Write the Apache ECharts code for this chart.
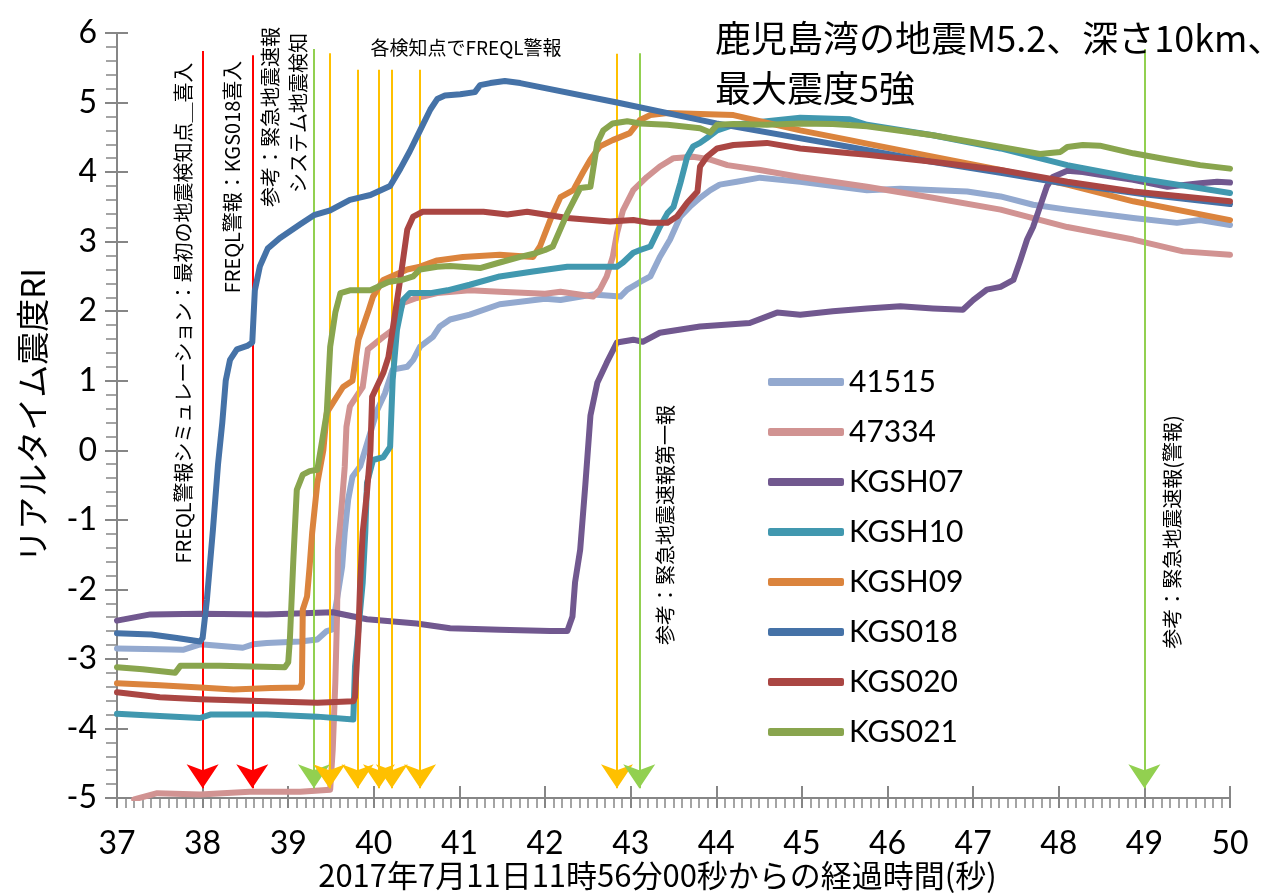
<!DOCTYPE html>
<html>
<head>
<meta charset="utf-8">
<script src="https://cdn.jsdelivr.net/npm/echarts@6/dist/echarts.min.js"></script>
<style>
  html, body { margin: 0; padding: 0; background: #fff; }
  #chart { width: 1274px; height: 894px; }
</style>
</head>
<body>
<div id="chart"></div>
<script>
// series: [seconds, RI]
const s41515 = [
  [37.00, -2.85], [37.50, -2.86], [37.77, -2.87], [37.97, -2.79], [38.47, -2.84], [38.59, -2.79],
  [38.75, -2.77], [39.14, -2.75], [39.34, -2.72], [39.45, -2.60], [39.51, -2.58], [39.57, -2.14],
  [39.63, -1.67], [39.66, -1.18], [39.70, -0.71], [39.75, -0.38], [39.84, -0.23], [40.04, 0.58],
  [40.13, 0.82], [40.22, 1.16], [40.39, 1.20], [40.46, 1.30], [40.54, 1.49], [40.69, 1.63],
  [40.77, 1.78], [40.89, 1.88], [41.12, 1.95], [41.47, 2.10], [42.00, 2.18], [42.18, 2.16],
  [42.56, 2.24], [42.88, 2.21], [42.96, 2.31], [43.11, 2.42], [43.23, 2.50], [43.34, 2.78],
  [43.46, 3.03], [43.58, 3.36], [43.69, 3.50], [43.81, 3.63], [43.93, 3.74], [44.04, 3.82],
  [44.24, 3.86], [44.51, 3.92], [44.98, 3.86], [45.76, 3.74], [46.15, 3.76], [46.93, 3.72],
  [47.32, 3.65], [47.70, 3.53], [48.10, 3.46], [48.87, 3.34], [49.38, 3.27], [49.65, 3.31],
  [50.00, 3.24]
];
const s47334 = [
  [37.20, -5.02], [37.47, -4.93], [37.97, -4.95], [38.55, -4.91], [39.14, -4.91], [39.49, -4.88],
  [39.52, -4.30], [39.55, -3.34], [39.57, -2.39], [39.58, -1.43], [39.63, -0.71], [39.66, -0.24],
  [39.68, 0.34], [39.72, 0.63], [39.87, 0.91], [39.93, 1.45], [40.11, 1.63], [40.22, 1.73],
  [40.34, 2.12], [40.50, 2.19], [40.74, 2.26], [41.12, 2.30], [41.47, 2.28], [42.00, 2.25],
  [42.18, 2.28], [42.56, 2.21], [42.64, 2.31], [42.72, 2.50], [42.79, 2.78], [42.84, 3.12],
  [42.91, 3.45], [43.03, 3.74], [43.19, 3.93], [43.34, 4.08], [43.50, 4.20], [43.73, 4.22],
  [43.93, 4.18], [44.13, 4.10], [44.51, 4.03], [44.98, 3.93], [45.76, 3.79], [46.53, 3.63],
  [47.32, 3.46], [48.10, 3.21], [48.87, 3.03], [49.45, 2.86], [50.00, 2.81]
];
const sKGSH07 = [
  [37.00, -2.45], [37.39, -2.36], [37.97, -2.35], [38.75, -2.36], [39.52, -2.33], [39.92, -2.43],
  [40.50, -2.49], [40.89, -2.56], [41.47, -2.58], [42.06, -2.60], [42.26, -2.60], [42.32, -2.39],
  [42.35, -1.90], [42.41, -1.43], [42.47, -0.50], [42.53, 0.50], [42.61, 0.97], [42.72, 1.26],
  [42.84, 1.55], [43.03, 1.59], [43.14, 1.56], [43.34, 1.69], [43.81, 1.78], [44.39, 1.83],
  [44.71, 1.98], [44.98, 1.95], [45.36, 2.00], [45.76, 2.04], [46.15, 2.07], [46.53, 2.04],
  [46.88, 2.02], [47.00, 2.16], [47.16, 2.31], [47.32, 2.35], [47.47, 2.45], [47.55, 2.73],
  [47.63, 3.03], [47.70, 3.21], [47.78, 3.50], [47.86, 3.79], [47.93, 3.93], [48.10, 4.02],
  [48.28, 4.00], [48.48, 3.96], [48.87, 3.89], [49.27, 3.79], [49.65, 3.84], [49.85, 3.86],
  [50.00, 3.85]
];
const sKGSH10 = [
  [37.00, -3.79], [37.50, -3.82], [37.97, -3.85], [38.09, -3.80], [38.75, -3.80], [39.34, -3.83],
  [39.76, -3.87], [39.78, -3.11], [39.87, -1.90], [39.90, -1.18], [39.92, -0.47], [39.99, -0.14],
  [40.11, -0.10], [40.19, 0.05], [40.22, 1.01], [40.27, 1.73], [40.34, 2.16], [40.42, 2.26],
  [40.66, 2.26], [40.86, 2.30], [41.12, 2.38], [41.47, 2.50], [41.86, 2.57], [42.26, 2.64],
  [42.84, 2.64], [42.91, 2.70], [43.03, 2.84], [43.11, 2.88], [43.23, 2.93], [43.34, 3.21],
  [43.43, 3.41], [43.50, 3.50], [43.58, 3.84], [43.66, 4.22], [43.73, 4.37], [43.81, 4.42],
  [43.89, 4.49], [44.01, 4.60], [44.20, 4.68], [44.59, 4.73], [44.98, 4.78], [45.56, 4.76],
  [45.76, 4.68], [46.53, 4.53], [47.32, 4.34], [48.10, 4.10], [48.87, 3.92], [50.00, 3.70]
];
const sKGSH09 = [
  [37.00, -3.35], [37.50, -3.38], [37.97, -3.41], [38.36, -3.44], [38.80, -3.42], [39.14, -3.41],
  [39.16, -3.35], [39.17, -2.29], [39.22, -2.10], [39.25, -1.67], [39.28, -1.18], [39.34, -0.47],
  [39.41, 0.00], [39.45, 0.54], [39.64, 0.91], [39.75, 1.00], [39.82, 1.59], [39.93, 1.98],
  [39.99, 2.21], [40.11, 2.45], [40.39, 2.60], [40.54, 2.64], [40.74, 2.73], [41.04, 2.78],
  [41.47, 2.81], [41.86, 2.78], [41.94, 2.93], [42.06, 3.31], [42.18, 3.64], [42.33, 3.74],
  [42.44, 3.99], [42.53, 4.18], [42.64, 4.37], [42.79, 4.46], [42.99, 4.56], [43.11, 4.75],
  [43.23, 4.82], [43.43, 4.85], [44.20, 4.82], [44.98, 4.60], [45.56, 4.46], [45.76, 4.41],
  [46.53, 4.22], [47.32, 4.03], [48.10, 3.82], [48.87, 3.58], [50.00, 3.31]
];
const sKGS018 = [
  [37.00, -2.63], [37.40, -2.65], [37.70, -2.70], [37.97, -2.75], [38.00, -2.70], [38.05, -2.15],
  [38.12, -1.15], [38.18, -0.20], [38.23, 0.40], [38.27, 1.00], [38.32, 1.30], [38.40, 1.45],
  [38.52, 1.50], [38.58, 1.55], [38.61, 2.30], [38.67, 2.65], [38.76, 2.90], [38.90, 3.05],
  [39.02, 3.15], [39.14, 3.25], [39.30, 3.38], [39.49, 3.45], [39.72, 3.60], [39.96, 3.67],
  [40.19, 3.80], [40.31, 4.05], [40.42, 4.30], [40.54, 4.60], [40.66, 4.90], [40.74, 5.05],
  [40.83, 5.10], [41.01, 5.12], [41.18, 5.15], [41.24, 5.25], [41.36, 5.28], [41.53, 5.31],
  [41.71, 5.28], [42.84, 5.00], [44.00, 4.70], [45.56, 4.36], [46.50, 4.15], [47.32, 3.99],
  [48.00, 3.85], [49.00, 3.68], [50.00, 3.54]
];
const sKGS020 = [
  [37.00, -3.48], [37.50, -3.55], [37.97, -3.58], [38.75, -3.61], [39.34, -3.63], [39.76, -3.61],
  [39.78, -3.55], [39.82, -2.62], [39.84, -1.90], [39.87, -1.18], [39.92, -0.60], [39.96, 0.00],
  [39.98, 0.77], [40.11, 1.11], [40.17, 1.34], [40.25, 1.98], [40.33, 2.64], [40.39, 3.17],
  [40.46, 3.36], [40.57, 3.43], [41.12, 3.43], [41.28, 3.43], [41.56, 3.39], [41.79, 3.43],
  [42.26, 3.34], [42.76, 3.29], [43.03, 3.31], [43.23, 3.27], [43.43, 3.27], [43.54, 3.36],
  [43.66, 3.56], [43.78, 3.72], [43.81, 4.08], [43.89, 4.22], [44.01, 4.34], [44.20, 4.39],
  [44.59, 4.42], [44.98, 4.34], [45.56, 4.27], [45.76, 4.25], [46.53, 4.15], [47.32, 4.03],
  [48.10, 3.86], [48.87, 3.72], [50.00, 3.58]
];
const sKGS021 = [
  [37.00, -3.12], [37.30, -3.15], [37.68, -3.20], [37.74, -3.10], [38.20, -3.10], [38.96, -3.12],
  [39.00, -3.05], [39.02, -2.70], [39.06, -1.57], [39.10, -0.57], [39.17, -0.35], [39.25, -0.30],
  [39.34, -0.28], [39.45, 0.54], [39.49, 1.49], [39.55, 1.98], [39.61, 2.26], [39.72, 2.30],
  [39.96, 2.30], [40.17, 2.42], [40.33, 2.45], [40.46, 2.50], [40.54, 2.60], [40.74, 2.64],
  [40.89, 2.65], [41.24, 2.62], [41.47, 2.70], [41.71, 2.78], [41.88, 2.83], [42.00, 2.88],
  [42.09, 2.93], [42.26, 3.41], [42.41, 3.77], [42.53, 3.79], [42.61, 4.42], [42.68, 4.60],
  [42.79, 4.70], [42.96, 4.73], [43.11, 4.70], [43.43, 4.68], [43.81, 4.63], [43.93, 4.57],
  [44.01, 4.68], [44.20, 4.69], [44.59, 4.68], [44.98, 4.70], [45.36, 4.69], [45.76, 4.66],
  [46.53, 4.53], [47.32, 4.36], [47.78, 4.26], [48.02, 4.29], [48.10, 4.36], [48.28, 4.39],
  [48.48, 4.38], [48.87, 4.27], [49.27, 4.18], [49.65, 4.10], [50.00, 4.05]
];

const seriesNames = ['41515', '47334', 'KGSH07', 'KGSH10', 'KGSH09', 'KGS018', 'KGS020', 'KGS021'];
const seriesValues = [s41515, s47334, sKGSH07, sKGSH10, sKGSH09, sKGS018, sKGS020, sKGS021];
const seriesColors = ['#93A9CF', '#D19392', '#71588F', '#4198AF', '#DB843D', '#4572A7', '#AA4643', '#89A54E'];

// event arrows: time, top of the arrow (RI), kind
const arrowTimes = [38.00, 38.58, 39.30, 39.48, 39.81, 40.06, 40.21, 40.54, 42.84, 43.10, 49.00];
const arrowTops = [5.74, 5.68, 5.77, 5.71, 5.47, 5.47, 5.47, 5.47, 5.70, 5.71, 5.77];
const arrowKinds = ['freql', 'freql', 'jma', 'station', 'station', 'station', 'station', 'station', 'station', 'jma', 'jma'];
const arrowBottom = -4.86;
const kindColor = { freql: '#FF0000', station: '#FFC000', jma: '#92D050' };

const chart = echarts.init(document.getElementById('chart'));

const lineSeries = seriesNames.map((name, i) => ({
  name: name,
  type: 'line',
  data: seriesValues[i],
  showSymbol: false,
  symbol: 'none',
  color: seriesColors[i],
  lineStyle: { width: 6, color: seriesColors[i], cap: 'round', join: 'round' },
  z: 2 + i
}));

const arrowLines = arrowTimes.map((t, i) => [
  { coord: [t, arrowTops[i]], lineStyle: { color: kindColor[arrowKinds[i]], width: 2, type: 'solid' } },
  { coord: [t, arrowBottom] }
]);

lineSeries.push({
  name: 'events',
  type: 'line',
  data: [],
  z: 20,
  markLine: {
    silent: true,
    animation: false,
    symbol: ['none', 'arrow'],
    symbolSize: 24,
    label: { show: false },
    data: arrowLines
  }
});

const vText = (txt, x, y, size) => ({
  type: 'text',
  x: x,
  y: y,
  rotation: Math.PI / 2,
  style: {
    text: txt,
    fill: '#000',
    font: size + 'px "Noto Sans CJK JP"',
    align: 'center',
    verticalAlign: 'middle'
  },
  z: 100
});

const tickColor = '#868686';

const option = {
  animation: false,
  backgroundColor: '#fff',
  title: {
    text: '鹿児島湾の地震M5.2、深さ10km、\n最大震度5強',
    left: 710,
    top: 8,
    textStyle: { fontFamily: 'Noto Sans CJK JP', fontSize: 36, fontWeight: 'normal', color: '#000', lineHeight: 50 }
  },
  legend: {
    data: seriesNames,
    orient: 'vertical',
    left: 763,
    top: 362,
    icon: 'roundRect',
    itemWidth: 76,
    itemHeight: 8,
    itemGap: 20,
    textStyle: { fontFamily: 'Lato', fontSize: 30, color: '#000', lineHeight: 30 }
  },
  grid: { left: 117, right: 44, top: 33, bottom: 96, outerBoundsMode: 'none', containLabel: false },
  xAxis: [{
    type: 'value',
    min: 37,
    max: 50,
    interval: 1,
    name: '2017年7月11日11時56分00秒からの経過時間(秒)',
    nameLocation: 'middle',
    nameGap: 62,
    nameMoveOverlap: false,
    nameTextStyle: { fontFamily: 'Noto Sans CJK JP', fontSize: 31, color: '#000', padding: [0, 32, 0, 0] },
    axisLine: { show: true, onZero: false, lineStyle: { color: tickColor, width: 2 } },
    axisTick: { show: true, inside: false, length: 10, lineStyle: { color: tickColor, width: 2 } },
    minorTick: { show: true, splitNumber: 10, length: 10, lineStyle: { color: tickColor, width: 1.5 } },
    axisLabel: { fontFamily: 'Lato', fontSize: 32, color: '#000', margin: 30 },
    splitLine: { show: false }
  }, {
    type: 'value',
    min: 37,
    max: 50,
    interval: 1,
    position: 'bottom',
    axisLine: { show: false, onZero: false },
    axisTick: { show: true, inside: true, length: 12, lineStyle: { color: tickColor, width: 2 } },
    axisLabel: { show: false },
    splitLine: { show: false }
  }],
  yAxis: [{
    type: 'value',
    min: -5,
    max: 6,
    interval: 1,
    name: 'リアルタイム震度RI',
    nameLocation: 'middle',
    nameGap: 68,
    nameMoveOverlap: false,
    nameTextStyle: { fontFamily: 'Noto Sans CJK JP', fontSize: 33, color: '#000' },
    axisLine: { show: true, onZero: false, lineStyle: { color: tickColor, width: 2 } },
    axisTick: { show: true, inside: false, length: 12, lineStyle: { color: tickColor, width: 2 } },
    minorTick: { show: true, splitNumber: 5, length: 11, lineStyle: { color: tickColor, width: 1.5 } },
    axisLabel: { fontFamily: 'Lato', fontSize: 32, color: '#000', margin: 20 },
    splitLine: { show: false }
  }, {
    type: 'value',
    min: -5,
    max: 6,
    interval: 1,
    position: 'left',
    axisLine: { show: false, onZero: false },
    axisTick: { show: true, inside: true, length: 11, lineStyle: { color: tickColor, width: 2 } },
    axisLabel: { show: false },
    splitLine: { show: false }
  }],
  graphic: [
    vText('FREQL警報シミュレーション：最初の地震検知点＿喜入', 183, 313, 20),
    vText('FREQL警報：KGS018喜入', 232, 177, 20),
    vText('参考：緊急地震速報', 270, 117, 20),
    vText('システム地震検知', 298, 113, 20),
    vText('参考：緊急地震速報第一報', 665, 525, 20),
    vText('参考：緊急地震速報(警報)', 1172, 532, 20),
    {
      type: 'text',
      x: 466,
      y: 48,
      style: {
        text: '各検知点でFREQL警報',
        fill: '#000',
        font: '19px "Noto Sans CJK JP"',
        align: 'center',
        verticalAlign: 'middle'
      },
      z: 100
    }
  ],
  series: lineSeries
};

chart.setOption(option);
</script>
</body>
</html>
